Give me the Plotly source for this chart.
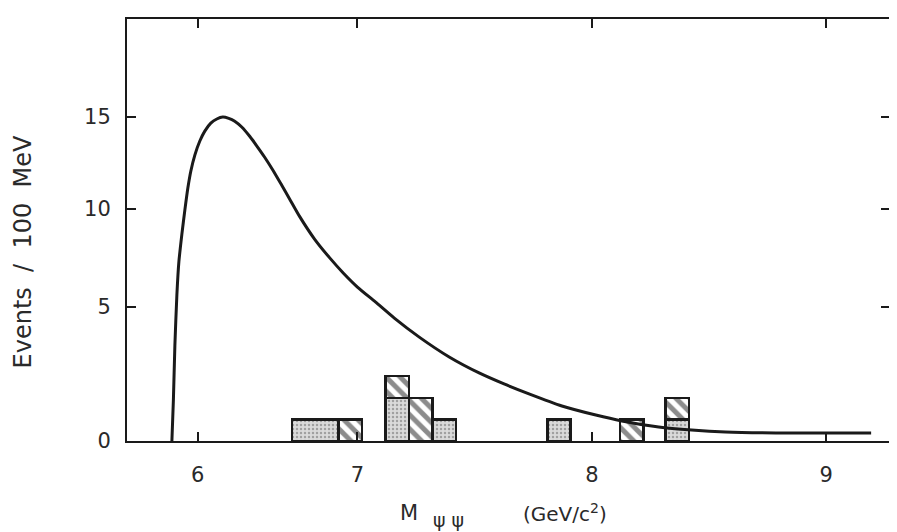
import plotly.graph_objects as go

# ---- curve: expected Events / 100 MeV vs M_psipsi (GeV/c^2) ----
curve_mass = [6.2085, 6.2149, 6.2213, 6.2298, 6.2383, 6.2511, 6.2638, 6.2766, 6.2894, 6.3064,
              6.3277, 6.3489, 6.3745, 6.4000, 6.4255, 6.4511, 6.4766, 6.5064, 6.5404, 6.5702,
              6.6043, 6.6383, 6.6766, 6.7106, 6.7532, 6.8170, 6.8809, 6.9404, 7.0000, 7.0766,
              7.1574, 7.2638, 7.3915, 7.5191, 7.6255, 7.7319, 7.8723, 8.0170, 8.1277, 8.2851,
              8.4255, 8.5702, 8.8511, 9.1915]
curve_events = [0.0, 1.90, 4.44, 6.76, 8.29, 9.58, 10.69, 11.71, 12.50, 13.24,
                13.89, 14.35, 14.72, 14.91, 15.00, 14.94, 14.81, 14.54, 14.11, 13.67,
                13.14, 12.56, 11.85, 11.21, 10.40, 9.35, 8.49, 7.77, 7.13, 6.44,
                5.69, 4.81, 3.89, 3.15, 2.64, 2.18, 1.62, 1.20, 0.93, 0.65,
                0.51, 0.42, 0.37, 0.37]

# ---- histogram (stacked): stippled events and hatched events ----
stip_center = [6.82, 7.17, 7.37, 7.86, 8.365]
stip_width = [0.2, 0.1, 0.1, 0.1, 0.1]
stip_count = [1, 2, 1, 1, 1]

hatch_center = [6.97, 7.17, 7.27, 8.17, 8.365]
hatch_width = [0.1, 0.1, 0.1, 0.1, 0.1]
hatch_count = [1, 1, 2, 1, 1]

# ---- axes ticks as drawn in the figure ----
x_tick_pos = [6.319, 7, 8, 9]
x_tick_text = ["6", "7", "8", "9"]
y_tick_pos = [0, 6.20, 10.74, 15.0]
y_tick_text = ["0", "5", "10", "15"]

FONT = "DejaVu Sans"
INK = "#1a1a1a"
TXT = "#2a2a2a"

fig = go.Figure()

fig.add_trace(go.Bar(
    x=stip_center, y=stip_count, width=stip_width,
    marker=dict(color="#d6d6d6",
                line=dict(color=INK, width=2.5),
                pattern=dict(shape=".", fgcolor="#666666", bgcolor="#dadada",
                             size=4, solidity=0.3)),
    showlegend=False, hoverinfo="skip"))

fig.add_trace(go.Bar(
    x=hatch_center, y=hatch_count, width=hatch_width,
    marker=dict(color="white",
                line=dict(color=INK, width=2.5),
                pattern=dict(shape="\\", fgcolor=INK, bgcolor="white",
                             size=10, solidity=0.5)),
    showlegend=False, hoverinfo="skip"))

fig.add_trace(go.Scatter(
    x=curve_mass, y=curve_events, mode="lines",
    line=dict(color=INK, width=3, shape="spline", smoothing=0.6),
    showlegend=False, hoverinfo="skip"))

axis_common = dict(
    showline=True, linecolor=INK, linewidth=2, mirror="allticks",
    ticks="inside", ticklen=9, tickwidth=2, tickcolor=INK,
    showgrid=False, zeroline=False,
    tickfont=dict(family=FONT, size=21, color=TXT),
)

def ann(text, x, y, size, angle=0):
    return dict(text=text, xref="paper", yref="paper", x=x, y=y,
                xanchor="center", yanchor="middle", showarrow=False,
                textangle=angle, font=dict(family=FONT, size=size, color=TXT))

fig.update_layout(
    width=889, height=524,
    margin=dict(l=119, r=5, t=11, b=91),
    paper_bgcolor="white", plot_bgcolor="white",
    barmode="stack",
    xaxis=dict(range=[6.017, 9.272], tickvals=x_tick_pos, ticktext=x_tick_text,
               ticklabelstandoff=14, **axis_common),
    yaxis=dict(range=[0, 19.54], tickvals=y_tick_pos, ticktext=y_tick_text,
               ticklabelstandoff=10, **axis_common),
    annotations=[
        ann("M", 0.370, -0.170, 21),
        ann("ψ\u00a0ψ", 0.421, -0.188, 19),
        ann("(GeV/c<sup>2</sup>)", 0.574, -0.170, 20),
        ann("Events\u00a0\u00a0/\u00a0\u00a0100\u00a0\u00a0MeV", -0.137, 0.448, 24, -90),
    ],
)

fig.write_html("out.html")
